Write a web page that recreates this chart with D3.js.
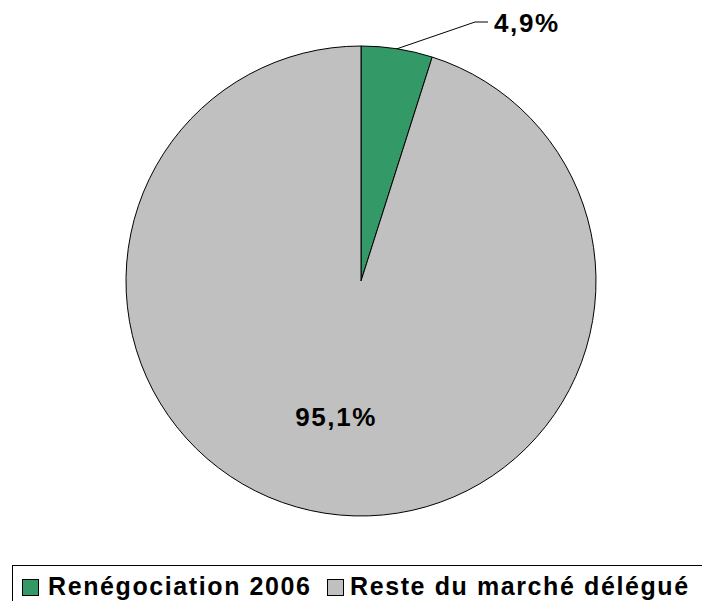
<!DOCTYPE html>
<html>
<head>
<meta charset="utf-8">
<script src="https://cdn.jsdelivr.net/npm/d3@7"></script>
<style>
  body { margin: 0; background: #fff; }
  svg text { font-family: "Liberation Sans", Arial, sans-serif; font-weight: bold; fill: #000; }
</style>
</head>
<body>
<div id="chart"></div>
<script>
// data
var labels = ["Renégociation 2006", "Reste du marché délégué"];
var values = [4.9, 95.1];
var valueTexts = ["4,9%", "95,1%"];
var colors = ["#339966", "#C0C0C0"];

var width = 702, height = 601;
var cx = 361, cy = 281, radius = 235;

var svg = d3.select("#chart").append("svg")
  .attr("width", width)
  .attr("height", height);

svg.append("rect").attr("width", width).attr("height", height).attr("fill", "#fff");

var pie = d3.pie().sort(null).value(function (d) { return d; });
var arcs = pie(values);
var arc = d3.arc().innerRadius(0).outerRadius(radius);

var g = svg.append("g").attr("transform", "translate(" + cx + "," + cy + ")");

g.selectAll("path.slice")
  .data(arcs)
  .enter().append("path")
  .attr("class", "slice")
  .attr("d", arc)
  .attr("fill", function (d, i) { return colors[i]; })
  .attr("stroke", "#000")
  .attr("stroke-width", 1);

// small slice label, outside with leader line
var a0 = arcs[0];
var mid = (a0.startAngle + a0.endAngle) / 2;
var p1 = [Math.sin(mid) * radius, -Math.cos(mid) * radius];
var p2 = [114, -259];
var p3 = [127, -259];
g.append("polyline")
  .attr("points", [p1, p2, p3].map(function (p) { return p.join(","); }).join(" "))
  .attr("fill", "none")
  .attr("stroke", "#000")
  .attr("stroke-width", 1);
g.append("text")
  .attr("x", p3[0] + 6)
  .attr("y", p3[1] + 10)
  .style("font-size", "26px")
  .style("letter-spacing", "1.6px")
  .text(valueTexts[0]);

// big slice label inside
var a1 = arcs[1];
var mid1 = (a1.startAngle + a1.endAngle) / 2;
var lr = radius * 0.58;
g.append("text")
  .attr("x", Math.sin(mid1) * lr - 4)
  .attr("y", -Math.cos(mid1) * lr + 10)
  .attr("text-anchor", "middle")
  .style("font-size", "26px")
  .style("letter-spacing", "1.6px")
  .text(valueTexts[1]);

// legend
var legend = svg.append("g");
legend.append("rect")
  .attr("x", 12.5).attr("y", 565.5)
  .attr("width", 720).attr("height", 60)
  .attr("fill", "#fff")
  .attr("stroke", "#000")
  .attr("stroke-width", 1);

var legX = [22, 327];
var legTextX = [48, 350];
labels.forEach(function (l, i) {
  legend.append("rect")
    .attr("x", legX[i] + 0.5).attr("y", 579.5)
    .attr("width", 16).attr("height", 16)
    .attr("fill", colors[i])
    .attr("stroke", "#000")
    .attr("stroke-width", 1);
  legend.append("text")
    .attr("x", legTextX[i])
    .attr("y", 595)
    .style("font-size", "25px")
    .style("letter-spacing", "1.6px")
    .text(l);
});
</script>
</body>
</html>
